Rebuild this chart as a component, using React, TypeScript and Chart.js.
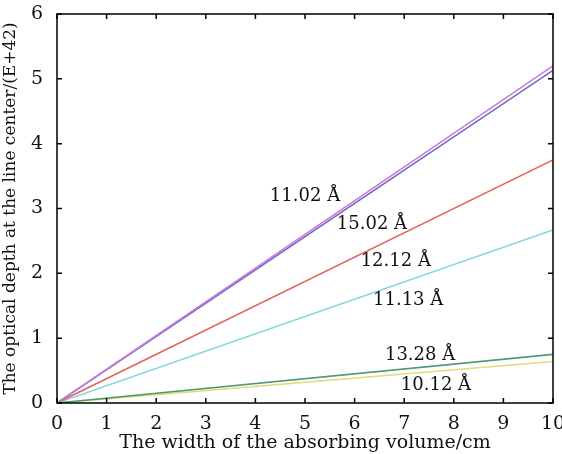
import React, { useEffect, useRef } from "react";
import { Chart, registerables } from "chart.js";

Chart.register(...registerables);

const xValues = [0, 10];
const seriesNames = ["11.02 Å", "15.02 Å", "12.12 Å", "11.13 Å", "13.28 Å", "10.12 Å"];
const magentaLine = [0, 5.2];
const blueLine = [0, 5.13];
const redLine = [0, 3.75];
const cyanLine = [0, 2.67];
const greenLine = [0, 0.75];
const yellowLine = [0, 0.64];
const lineColors = ["#c97ad8", "#6f68cc", "#e0685c", "#86d6da", "#4f9a70", "#e4da78"];
const xTicks = [0, 1, 2, 3, 4, 5, 6, 7, 8, 9, 10];
const yTicks = [0, 1, 2, 3, 4, 5, 6];
const labelX = [5.0, 6.35, 6.83, 7.08, 7.32, 7.64];
const labelY = [3.19, 2.75, 2.18, 1.59, 0.73, 0.28];

const FONT = "'DejaVu Serif', serif";

const framePlugin = {
  id: "frame",
  afterDraw(chart: any) {
    const { ctx, chartArea: a, scales } = chart;
    const xs = scales.x;
    const ys = scales.y;
    ctx.save();
    ctx.strokeStyle = "#000";
    ctx.lineWidth = 1.5;
    ctx.strokeRect(a.left, a.top, a.right - a.left, a.bottom - a.top);
    const t = 5;
    ctx.beginPath();
    xTicks.forEach((v) => {
      const px = xs.getPixelForValue(v);
      ctx.moveTo(px, a.bottom);
      ctx.lineTo(px, a.bottom - t);
      ctx.moveTo(px, a.top);
      ctx.lineTo(px, a.top + t);
    });
    yTicks.forEach((v) => {
      const py = ys.getPixelForValue(v);
      ctx.moveTo(a.left, py);
      ctx.lineTo(a.left + t, py);
      ctx.moveTo(a.right, py);
      ctx.lineTo(a.right - t, py);
    });
    ctx.stroke();
    ctx.fillStyle = "#111";
    ctx.font = `18px ${FONT}`;
    ctx.textAlign = "center";
    ctx.textBaseline = "middle";
    seriesNames.forEach((name, i) => {
      ctx.fillText(name, xs.getPixelForValue(labelX[i]), ys.getPixelForValue(labelY[i]));
    });
    ctx.restore();
  },
};

export default function App() {
  const ref = useRef<HTMLCanvasElement>(null);
  useEffect(() => {
    document.body.style.margin = "0";
    const seriesData = [magentaLine, blueLine, redLine, cyanLine, greenLine, yellowLine];
    const chart = new Chart(ref.current!, {
      type: "line",
      data: {
        datasets: seriesData.map((vals, i) => ({
          label: seriesNames[i],
          data: xValues.map((x, j) => ({ x, y: vals[j] })),
          borderColor: lineColors[i],
          borderWidth: 1.6,
          pointRadius: 0,
          fill: false,
        })),
      },
      options: {
        animation: false,
        responsive: false,
        layout: { padding: { top: 14, right: 9, left: 0, bottom: 0 } },
        plugins: { legend: { display: false }, tooltip: { enabled: false } },
        scales: {
          x: {
            type: "linear",
            min: 0,
            max: 10,
            afterFit: (s: any) => { s.height = 51; s.paddingLeft = 0; s.paddingRight = 0; },
            grid: { display: false },
            border: { display: false },
            ticks: { stepSize: 1, color: "#111", font: { family: FONT, size: 19 }, padding: 2, maxRotation: 0 },
            title: { display: true, text: "The width of the absorbing volume/cm", color: "#111", font: { family: FONT, size: 19 }, padding: 0 },
          },
          y: {
            type: "linear",
            min: 0,
            max: 6,
            afterFit: (s: any) => { s.width = 57; s.paddingTop = 0; s.paddingBottom = 0; },
            grid: { display: false },
            border: { display: false },
            ticks: { stepSize: 1, color: "#111", font: { family: FONT, size: 19 }, padding: 6 },
            title: { display: true, text: "The optical depth at the line center/(E+42)", color: "#111", font: { family: FONT, size: 17 }, padding: 0 },
          },
        },
      },
      plugins: [framePlugin],
    });
    return () => chart.destroy();
  }, []);
  return (
    <div style={{ width: 562, height: 454 }}>
      <canvas ref={ref} width={562} height={454} style={{ display: "block" }} />
    </div>
  );
}
